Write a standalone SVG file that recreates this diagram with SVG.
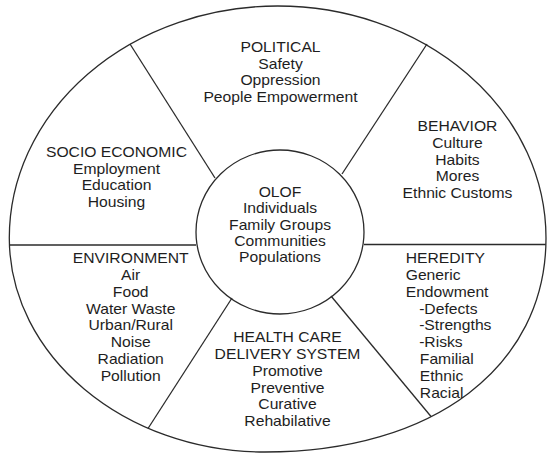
<svg xmlns="http://www.w3.org/2000/svg" width="548" height="453" viewBox="0 0 548 453">
<style>
.ln{stroke:#2b2b2b;stroke-width:1.3;fill:none}
.t{font-family:"Liberation Sans",Arial,sans-serif;font-size:14px;fill:#1e1e1e}
.c{text-anchor:middle}
</style>
<rect width="548" height="453" fill="#ffffff"/>
<g id="connectors">
<path id="outer" class="ln" d="M9.3,238 A268.35,232 0 0 1 546,238 C546,366.4 433.6,452 265,452 C124.4,452 9.3,355.7 9.3,238 Z"/>
<line class="ln" x1="130" y1="44" x2="215" y2="178"/>
<line class="ln" x1="427" y1="44" x2="342" y2="174"/>
<line class="ln" x1="9.5" y1="245" x2="196" y2="245"/>
<line class="ln" x1="364" y1="244.5" x2="545.8" y2="244.5"/>
<line class="ln" x1="232" y1="298" x2="148" y2="428.5"/>
<line class="ln" x1="331" y1="296" x2="431" y2="416.5"/>
</g>
<g id="center">
<ellipse class="ln" cx="280" cy="232" rx="84" ry="82" fill="#ffffff"/>
<text class="t c" transform="translate(280 0) scale(1.12 1)"><tspan x="0" y="197">OLOF</tspan><tspan x="0" y="213.3">Individuals</tspan><tspan x="0" y="229.6">Family Groups</tspan><tspan x="0" y="245.9">Communities</tspan><tspan x="0" y="262.2">Populations</tspan></text>
</g>
<g id="political">
<text class="t c" transform="translate(280.5 0) scale(1.12 1)"><tspan x="0" y="52">POLITICAL</tspan><tspan x="0" y="68.7">Safety</tspan><tspan x="0" y="85.4">Oppression</tspan><tspan x="0" y="102">People Empowerment</tspan></text>
</g>
<g id="socio-economic">
<text class="t c" transform="translate(116.5 0) scale(1.12 1)"><tspan x="0" y="157.5">SOCIO ECONOMIC</tspan><tspan x="0" y="174">Employment</tspan><tspan x="0" y="190.5">Education</tspan><tspan x="0" y="207">Housing</tspan></text>
</g>
<g id="behavior">
<text class="t c" transform="translate(457.5 0) scale(1.12 1)"><tspan x="0" y="131">BEHAVIOR</tspan><tspan x="0" y="147.8">Culture</tspan><tspan x="0" y="164.6">Habits</tspan><tspan x="0" y="181.4">Mores</tspan><tspan x="0" y="198.2">Ethnic Customs</tspan></text>
</g>
<g id="environment">
<text class="t c" transform="translate(130.7 0) scale(1.12 1)"><tspan x="0" y="263.3">ENVIRONMENT</tspan><tspan x="0" y="280.1">Air</tspan><tspan x="0" y="296.9">Food</tspan><tspan x="0" y="313.7">Water Waste</tspan><tspan x="0" y="330.5">Urban/Rural</tspan><tspan x="0" y="347.3">Noise</tspan><tspan x="0" y="364.1">Radiation</tspan><tspan x="0" y="380.9">Pollution</tspan></text>
</g>
<g id="health-care">
<text class="t c" transform="translate(287.5 0) scale(1.12 1)"><tspan x="0" y="342.5">HEALTH CARE</tspan><tspan x="0" y="359.2">DELIVERY SYSTEM</tspan><tspan x="0" y="375.9">Promotive</tspan><tspan x="0" y="392.6">Preventive</tspan><tspan x="0" y="409.3">Curative</tspan><tspan x="0" y="426">Rehabilative</tspan></text>
</g>
<g id="heredity">
<text class="t" transform="translate(405.7 0) scale(1.12 1)"><tspan x="0" y="263.3">HEREDITY</tspan><tspan x="0" y="280.1">Generic</tspan><tspan x="0" y="296.9">Endowment</tspan><tspan x="12" y="313.7">-Defects</tspan><tspan x="12" y="330.5">-Strengths</tspan><tspan x="12" y="347.3">-Risks</tspan><tspan x="12.6" y="364.1">Familial</tspan><tspan x="12.6" y="380.9">Ethnic</tspan><tspan x="12.6" y="397.7">Racial</tspan></text>
</g>
</svg>
